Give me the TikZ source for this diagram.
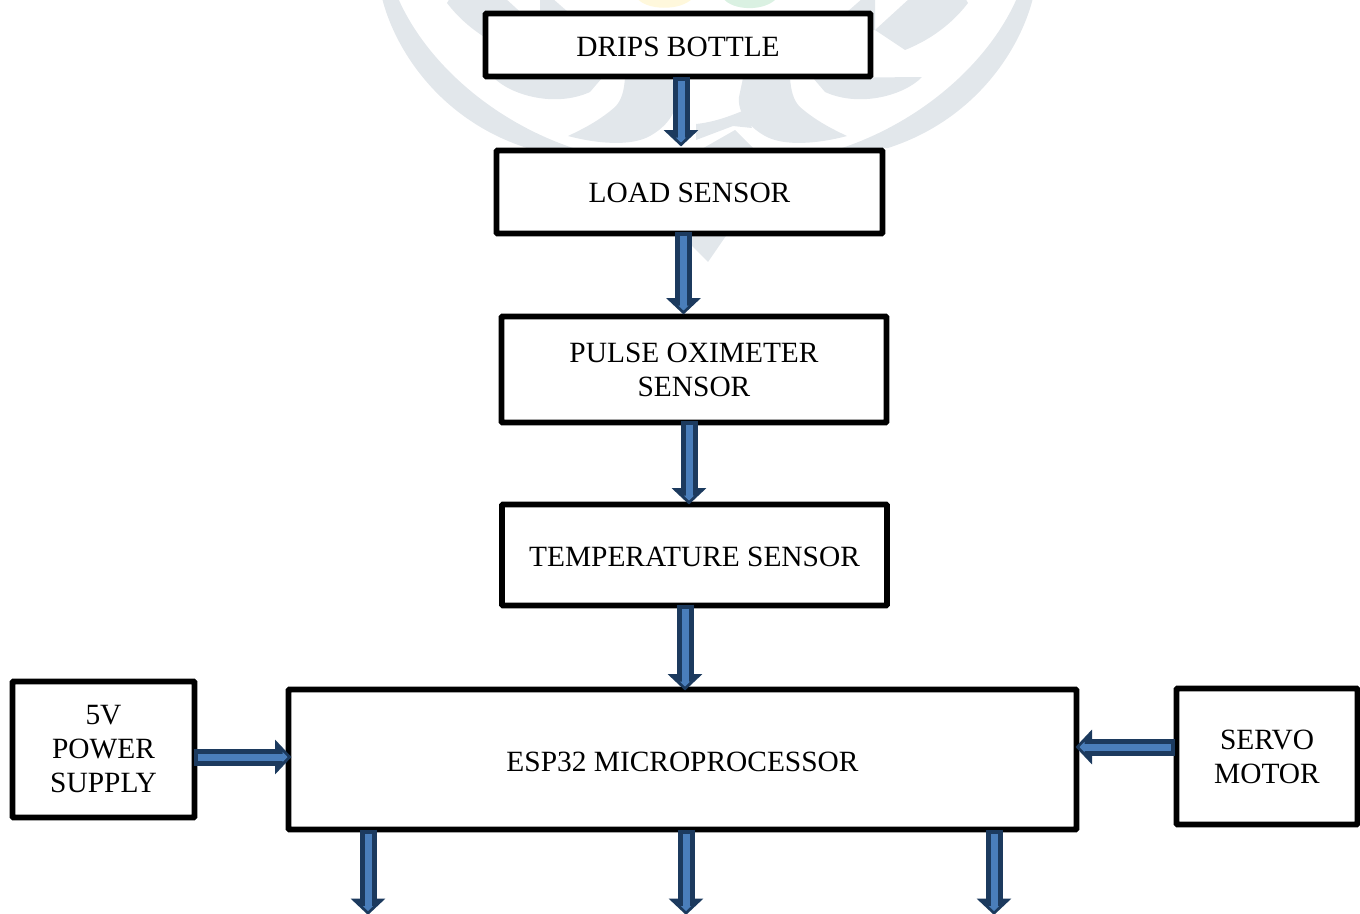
\documentclass[tikz,border=0pt]{standalone}
\usepackage{fontspec}
\setmainfont{Liberation Serif}
\usetikzlibrary{arrows.meta}
\definecolor{wm}{HTML}{E2E7EB}
\definecolor{wmyellow}{HTML}{FFF8DC}
\definecolor{wmgreen}{HTML}{DAF1E2}
\definecolor{arrdark}{HTML}{1C3A5E}
\definecolor{arrblue}{HTML}{4A7EBB}
\tikzset{
  blockbox/.style={draw=black,fill=white,line width=5.6pt,rounded corners=0.8pt,align=center,inner sep=0pt,outer sep=0pt,font=\fontsize{29.4}{34}\selectfont,text=black},
  arrowouter/.style={draw=arrdark,line width=17pt,-{Triangle[length=16.5pt,width=34pt]}},
  arrowinner/.style={draw=arrblue,line width=7pt,shorten <=4pt,shorten >=4pt,-{Triangle[length=5pt,width=10pt]}},
  wmshape/.style={fill=wm,draw=none}
}
\newcommand{\lowertext}[2]{\raisebox{-#1}[\height][\depth]{#2}}
\newcommand{\blockarrow}[2]{%
  \draw[arrowouter] #1 -- #2;
  \draw[arrowinner] #1 -- #2;}
\newcommand{\wmhalf}{%
  % outer wreath
  \path[wmshape] (382,-2) .. controls (395,50) and (440,120) .. (527,148) -- (573,148) .. controls (490,120) and (425,60) .. (398,-2) -- cycle;
  % upper leaf
  \path[wmshape] (450,-2) -- (447,3) .. controls (460,20) and (480,38) .. (510,50) -- (540,30) -- (505,-2) -- cycle;
  \path[wmshape] (540,-2) -- (552,-2) -- (568,12) -- (568,30) -- (540,30) -- cycle;
  % lower wreath leaf
  \path[wmshape] (493,77) .. controls (510,95) and (555,108) .. (590,92) -- (602,78) -- cycle;
  % big feather
  \path[wmshape] (625,78) .. controls (624,90) and (622,100) .. (615,107) .. controls (600,120) and (585,128) .. (568,136) .. controls (598,144) and (630,146) .. (648,137) .. controls (662,130) and (678,115) .. (676,97) -- (672,78) -- cycle;
}
\begin{document}
\begin{tikzpicture}[x=1pt,y=-1pt]
\useasboundingbox (0,0) rectangle (1360,913);
\clip (0,0) rectangle (1360,913);
% watermark
\wmhalf
\begin{scope}[xshift=1415pt,xscale=-1]
\wmhalf
\end{scope}
\path[wmshape] (696,124) .. controls (715,122) and (730,116) .. (745,110) -- (752,128) -- (733,126) -- (696,140) -- cycle;
\path[wmshape] (700,150) -- (735,130) -- (755,150) -- cycle;
\path[wmshape] (676,230) -- (708,262) -- (730,230) -- cycle;
\path[fill=wmyellow] (637,-2) .. controls (645,10) and (680,12) .. (693,-2) -- cycle;
\path[fill=wmgreen] (723,-2) .. controls (732,11) and (765,12) .. (777,-2) -- cycle;
% boxes
\node[blockbox,minimum width=385pt,minimum height=63pt] (drips) at (678,45) {\lowertext{1.5pt}{DRIPS BOTTLE}};
\node[blockbox,minimum width=386pt,minimum height=83pt] (load) at (689.5,192) {\lowertext{1pt}{LOAD SENSOR}};
\node[blockbox,minimum width=385pt,minimum height=106pt] (pulse) at (694,369.5) {PULSE OXIMETER\\SENSOR};
\node[blockbox,minimum width=385pt,minimum height=101pt] (temp) at (694.5,555) {\lowertext{1.5pt}{TEMPERATURE SENSOR}};
\node[blockbox,minimum width=788pt,minimum height=140pt] (esp) at (682.5,759.5) {\lowertext{2pt}{ESP32 MICROPROCESSOR}};
\node[blockbox,minimum width=182pt,minimum height=136pt] (psu) at (103.5,749.5) {5V\\POWER\\SUPPLY};
\node[blockbox,minimum width=181pt,minimum height=136pt] (servo) at (1267,756.5) {SERVO\\MOTOR};
% free ends below the processor
\coordinate (outa) at (368,915);
\coordinate (outb) at (686,915);
\coordinate (outc) at (994,915);
% connectors
\blockarrow{([xshift=3pt]drips.south)}{([xshift=-8.5pt,yshift=4pt]load.north)}
\blockarrow{([xshift=-6pt,yshift=2pt]load.south)}{([xshift=-10.5pt,yshift=2pt]pulse.north)}
\blockarrow{([xshift=-5pt,yshift=2pt]pulse.south)}{([xshift=-5.5pt]temp.north)}
\blockarrow{([xshift=-9.5pt,yshift=1pt]temp.south)}{([xshift=2.5pt,yshift=-1pt]esp.north)}
\blockarrow{([xshift=-1pt,yshift=-7.5pt]psu.east)}{([xshift=3pt,yshift=2.5pt]esp.west)}
\blockarrow{([xshift=-2pt,yshift=9.5pt]servo.west)}{([xshift=-1pt,yshift=12.5pt]esp.east)}
\blockarrow{([xshift=-314.5pt]esp.south)}{(outa)}
\blockarrow{([xshift=3.5pt]esp.south)}{(outb)}
\blockarrow{([xshift=311.5pt]esp.south)}{(outc)}
\end{tikzpicture}
\end{document}
